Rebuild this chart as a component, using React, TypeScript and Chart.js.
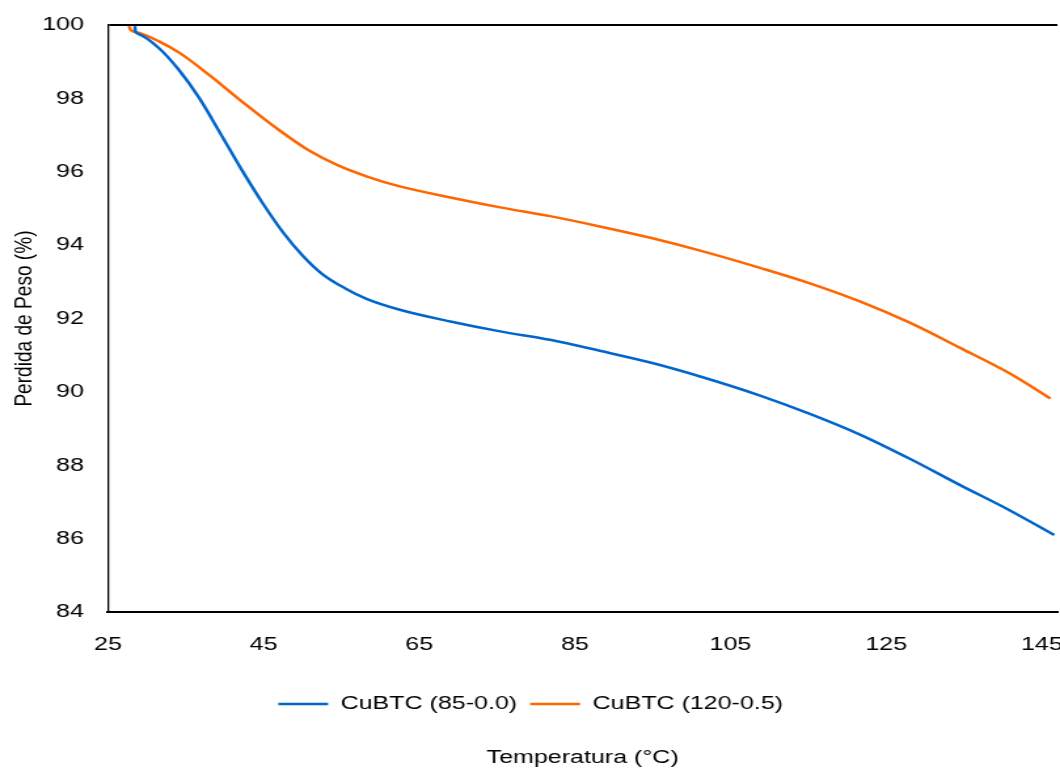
import React, { useEffect, useRef } from "react";
import { Chart, registerables } from "chart.js";

Chart.register(...registerables);

const seriesNames = ["CuBTC (85-0.0)", "CuBTC (120-0.5)"];
const seriesColors = ["#0066CC", "#FF6600"];

const tempBlue = [28.45, 28.55, 29.1, 31.5, 34.1, 36.7, 39.3, 42.0, 44.8, 47.5, 50.0, 52.5, 55.5, 58.3, 62.5, 69.0, 75.4, 81.8, 88.2, 94.7, 101.1, 108.8, 115.2, 121.7, 128.1, 134.5, 140.9, 146.6];
const weightBlue = [99.97, 99.82, 99.74, 99.38, 98.78, 98.02, 97.1, 96.12, 95.17, 94.35, 93.72, 93.22, 92.82, 92.53, 92.24, 91.92, 91.65, 91.42, 91.12, 90.8, 90.42, 89.9, 89.4, 88.83, 88.17, 87.46, 86.77, 86.1];

const tempOrange = [27.7, 27.95, 29.1, 31.5, 34.2, 38.0, 42.3, 46.7, 50.9, 54.5, 58.3, 62.5, 69.0, 75.4, 81.8, 88.2, 94.7, 101.1, 108.8, 115.2, 121.7, 128.1, 134.5, 140.9, 146.1];
const weightOrange = [99.97, 99.86, 99.78, 99.56, 99.24, 98.64, 97.9, 97.18, 96.57, 96.18, 95.87, 95.6, 95.3, 95.03, 94.79, 94.51, 94.2, 93.85, 93.38, 92.96, 92.46, 91.88, 91.2, 90.5, 89.82];

const xTicks = [25, 45, 65, 85, 105, 125, 145];
const yTicks = [84, 86, 88, 90, 92, 94, 96, 98, 100];
const xMin = 25;
const xMax = 147;
const yMin = 84;
const yMax = 100;

const xTitle = "Temperatura (°C)";
const yTitle = "Perdida de Peso (%)";

const STRETCH = 1.31;
const PAGE_W = 1060;
const PAGE_H = 772;
const CANVAS_W = Math.round(PAGE_W / STRETCH);

const FONT = '"Liberation Sans", Arial, sans-serif';
const FS = 19.1;

export default function App() {
  const ref = useRef<HTMLCanvasElement>(null);

  useEffect(() => {
    document.body.style.margin = "0";
    const canvas = ref.current!;
    const pts = (xs: number[], ys: number[]) => xs.map((x, i) => ({ x, y: ys[i] }));
    const chart = new Chart(canvas, {
      type: "scatter",
      data: {
        datasets: [
          {
            label: seriesNames[0],
            data: pts(tempBlue, weightBlue),
            borderColor: seriesColors[0],
            backgroundColor: seriesColors[0],
            borderWidth: 2.5,
            showLine: true,
            pointRadius: 0,
            cubicInterpolationMode: "monotone",
          },
          {
            label: seriesNames[1],
            data: pts(tempOrange, weightOrange),
            borderColor: seriesColors[1],
            backgroundColor: seriesColors[1],
            borderWidth: 2.5,
            showLine: true,
            pointRadius: 0,
            cubicInterpolationMode: "monotone",
          },
        ],
      },
      options: {
        responsive: false,
        animation: false,
        devicePixelRatio: 1,
        layout: { padding: { left: 3, right: 2, top: 25, bottom: 0 } },
        scales: {
          x: {
            type: "linear",
            min: xMin,
            max: xMax,
            afterBuildTicks: (axis: any) => {
              axis.ticks = xTicks.map((v) => ({ value: v }));
            },
            afterFit: (scale: any) => {
              scale.paddingRight = 0;
              scale.paddingLeft = 0;
              scale.height += 6.5;
            },
            grid: { display: false, drawTicks: false },
            border: { display: true, color: "#000", width: 2 },
            ticks: {
              color: "#000",
              font: { family: FONT, size: FS },
              padding: 21.5,
              maxRotation: 0,
              autoSkip: false,
            },
          },
          y: {
            type: "linear",
            min: yMin,
            max: yMax,
            afterBuildTicks: (axis: any) => {
              axis.ticks = yTicks.map((v) => ({ value: v }));
            },
            afterFit: (scale: any) => {
              scale.paddingTop = 0;
              scale.paddingBottom = 0;
            },
            grid: {
              display: true,
              drawTicks: false,
              lineWidth: 2,
              color: (ctx: any) => (ctx.tick && ctx.tick.value === yMax ? "#000" : "rgba(0,0,0,0)"),
            },
            border: { display: true, color: "#000", width: 1.3 },
            ticks: {
              color: "#000",
              font: { family: FONT, size: FS },
              padding: 18.3,
            },
            title: {
              display: true,
              text: yTitle,
              color: "#000",
              font: { family: FONT, size: FS },
              padding: { top: 4, bottom: -16 },
            },
          },
        },
        plugins: {
          legend: {
            position: "bottom",
            fullSize: true,
            labels: {
              color: "#000",
              font: { family: FONT, size: FS },
              usePointStyle: true,
              pointStyle: "line",
              pointStyleWidth: 38,
              padding: 10,
            },
          },
          title: {
            display: true,
            position: "bottom",
            fullSize: false,
            text: xTitle,
            color: "#000",
            font: { family: FONT, size: FS, weight: "normal" },
            padding: { top: 23, bottom: 2.5 },
          },
          tooltip: { enabled: false },
        },
      },
    } as any);
    canvas.style.width = PAGE_W + "px";
    canvas.style.height = PAGE_H + "px";
    return () => chart.destroy();
  }, []);

  return (
    <canvas
      ref={ref}
      width={CANVAS_W}
      height={PAGE_H}
      style={{ display: "block", width: PAGE_W + "px", height: PAGE_H + "px" }}
    />
  );
}
